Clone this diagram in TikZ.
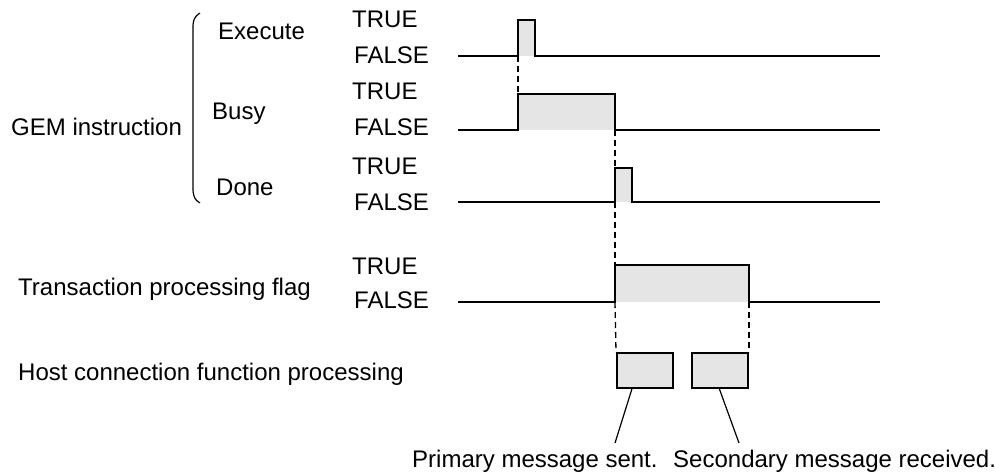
\documentclass[tikz,border=0pt]{standalone}
\usepackage{fontspec}
\setmainfont{Liberation Sans}
\begin{document}
\begin{tikzpicture}[x=1pt,y=-1pt,
  lbl/.style={anchor=base west,inner sep=0pt,font=\fontsize{24}{28}\selectfont},
  wave/.style={line width=1.7pt,line join=miter},
  hi/.style={fill=black!10},
  guide/.style={line width=1.3pt,dash pattern=on 6pt off 4pt},
  msgbox/.style={draw,line width=1.7pt,fill=black!10,minimum width=56pt,minimum height=35pt,inner sep=0pt},
  leader/.style={line width=1.2pt}]
\useasboundingbox (0,0) rectangle (995,472);
% left labels
\node[lbl] (gem) at (11,135) {GEM instruction};
\node[lbl] (exe) at (218,39) {Execute};
\node[lbl] (busy) at (212,119) {Busy};
\node[lbl] (done) at (216,195) {Done};
\node[lbl] (tpf) at (18,295) {Transaction processing flag};
\node[lbl] (host) at (18,380) {Host connection function processing};
% bracket
\draw[line width=1.2pt] (200,13) .. controls (194,17) and (193,20) .. (193,28) -- (193,188) .. controls (193,197) and (195,200) .. (200,203);
% TRUE/FALSE labels
\node[lbl] (t1) at (352,27) {TRUE};
\node[lbl] (f1) at (354,63) {FALSE};
\node[lbl] (t2) at (352,99) {TRUE};
\node[lbl] (f2) at (354,135) {FALSE};
\node[lbl] (t3) at (352,174) {TRUE};
\node[lbl] (f3) at (354,210) {FALSE};
\node[lbl] (t4) at (352,274) {TRUE};
\node[lbl] (f4) at (354,308) {FALSE};
% fills
\fill[hi] (518,20) rectangle (535,56);
\fill[hi] (518,94) rectangle (615,130);
\fill[hi] (615,168) rectangle (632,202);
\fill[hi] (615,265) rectangle (749,302);
% waveforms
\coordinate (e0) at (458,56); \coordinate (er) at (518,56); \coordinate (ef) at (535,56); \coordinate (e1) at (880,56);
\draw[wave] (e0) -- (er) -- (518,20) -- (535,20) -- (ef) -- (e1);
\coordinate (b0) at (458,130); \coordinate (br) at (518,94); \coordinate (bf) at (615,130); \coordinate (b1) at (880,130);
\draw[wave] (b0) -- (518,130) -- (br) -- (615,94) -- (bf) -- (b1);
\coordinate (d0) at (458,202); \coordinate (dr) at (615,202); \coordinate (dt) at (615,168); \coordinate (d1) at (880,202);
\draw[wave] (d0) -- (dr) -- (dt) -- (632,168) -- (632,202) -- (d1);
\coordinate (x0) at (458,302); \coordinate (xr) at (615,302); \coordinate (xt) at (615,265); \coordinate (xf) at (749,302); \coordinate (x1) at (880,302);
\draw[wave] (x0) -- (xr) -- (xt) -- (749,265) -- (xf) -- (x1);
% dashed guides
\draw[guide] (er) -- (br);
\draw[guide] (bf) -- (dt);
\draw[guide] (dr) -- (xt);
% boxes
\node[msgbox,anchor=north west] (box1) at (616,352) {};
\node[msgbox,anchor=north east] (box2) at (749,352) {};
\draw[guide] (xr) -- (box1.north west);
\draw[guide] (xf) -- (box2.north east);
% bottom labels
\node[lbl] (prim) at (412,467) {Primary message sent.};
\node[lbl] (sec) at (673,467) {Secondary message received.};
\draw[leader] ([xshift=16pt]box1.south west) -- (615,443);
\draw[leader] ([xshift=28pt]box2.south west) -- (739,443);
\end{tikzpicture}
\end{document}
